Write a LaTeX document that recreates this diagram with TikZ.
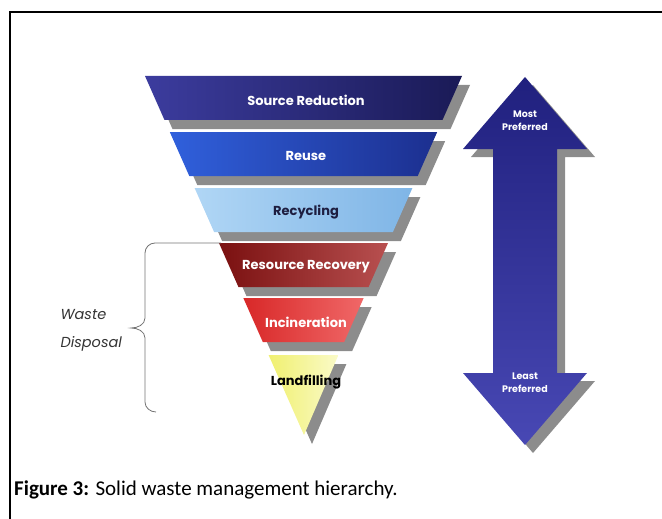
\documentclass[tikz,border=0pt]{standalone}
\usepackage{fontspec}
\setmainfont{Carlito}
\newfontfamily\bandfont{Poppins}
\usetikzlibrary{positioning}
\definecolor{srcL}{RGB}{60,60,158}
\definecolor{srcR}{RGB}{26,26,86}
\definecolor{reuL}{RGB}{48,96,220}
\definecolor{reuR}{RGB}{28,47,143}
\definecolor{recL}{RGB}{176,214,245}
\definecolor{recR}{RGB}{127,181,230}
\definecolor{rrvL}{RGB}{122,16,16}
\definecolor{rrvR}{RGB}{184,80,80}
\definecolor{incL}{RGB}{216,40,40}
\definecolor{incR}{RGB}{240,104,104}
\definecolor{lfL}{RGB}{240,240,112}
\definecolor{lfR}{RGB}{250,250,200}
\definecolor{arrT}{RGB}{32,32,126}
\definecolor{arrB}{RGB}{72,72,180}
\definecolor{recText}{RGB}{30,30,64}
\tikzset{
  bandlabel/.style={font=\bandfont\bfseries\fontsize{13}{15}\selectfont},
  arrowlabel/.style={font=\bandfont\bfseries\fontsize{9.5}{13}\selectfont,text=white,align=center},
  shadowgray/.style={fill=black!45},
}
\begin{document}
\begin{tikzpicture}[x=1pt,y=-1pt]
\useasboundingbox (0,0) rectangle (662,519);
% frame
\draw[line width=1.2pt] (10,519) -- (10,12) -- (662,12);
% bands of the funnel
\foreach \t/\lc/\rc/\tc/\name/\txt in {76/srcL/srcR/white/src/Source Reduction,
    132/reuL/reuR/white/reuse/Reuse,
    188/recL/recR/recText/recyc/Recycling,
    243/rrvL/rrvR/white/recov/Resource Recovery,
    298/incL/incR/white/incin/Incineration}{
  \pgfmathsetmacro\xa{145+(\t-76)*0.4429}
  \pgfmathsetmacro\xb{145+(\t+44-76)*0.4429}
  \fill[shadowgray] ({\xa+8},{\t+9}) -- ({615-\xa},{\t+9}) -- ({615-\xb},{\t+53}) -- ({\xb+8},{\t+53}) -- cycle;
  \shade[left color=\lc,right color=\rc] (\xa,\t) -- ({607-\xa},\t) -- ({607-\xb},{\t+44}) -- (\xb,{\t+44}) -- cycle;
  \node[bandlabel,text=\tc] (\name) at (306,{\t+24}) {\txt};
}
% tip of the funnel
\fill[shadowgray] (276.6,364) -- (346.4,364) -- (312,444) -- cycle;
\shade[left color=lfL,right color=lfR] (268.6,355) -- (338.4,355) -- (304,435) -- cycle;
\node[bandlabel,text=black] (landf) at (306,382) {Landfilling};
% double arrow
\fill[shadowgray] (533,85) -- (595,157) -- (565,157) -- (565,381) -- (595,381) -- (533,453)
  -- (471,381) -- (501,381) -- (501,157) -- (471,157) -- cycle;
\shade[top color=arrT,bottom color=arrB] (525,77) -- (587,149) -- (557,149) -- (557,373) -- (587,373) -- (525,445)
  -- (463,373) -- (493,373) -- (493,149) -- (463,149) -- cycle;
\node[arrowlabel] (most) at (525,121) {Most\\Preferred};
\node[arrowlabel] (least) at (525,383) {Least\\Preferred};
% brace
\draw[black!55,line width=0.8pt] (221,243) -- (155,243) to[out=180,in=90] (145,253) -- (145,318)
  to[out=-90,in=0] (131,328) to[out=0,in=90] (145,338) -- (145,402) to[out=-90,in=180] (156,412);
\node[font=\bandfont\itshape\fontsize{14.5}{28}\selectfont,text=black!80,align=left,anchor=west] (disp) at (57,330) {Waste\\Disposal};
% caption
\node[anchor=base west,font=\fontsize{21}{25}\selectfont,inner sep=0pt] (caption) at (14,495) {\textbf{Figure 3:} Solid waste management hierarchy.};
\end{tikzpicture}
\end{document}
